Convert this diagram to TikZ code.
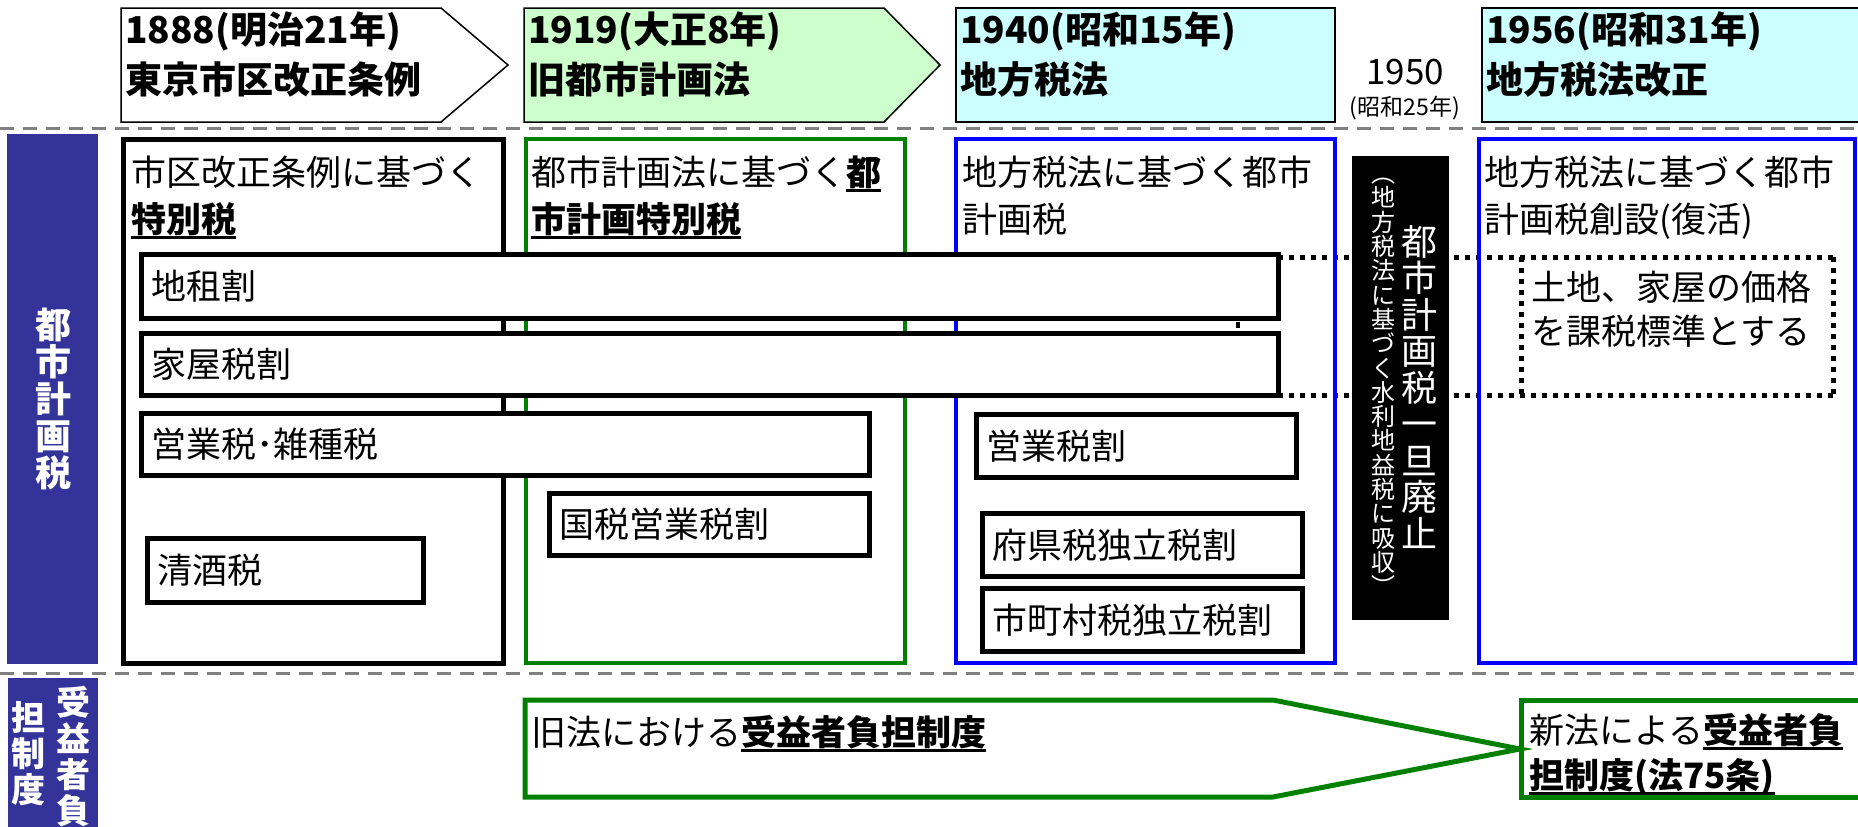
\documentclass[tikz,border=0pt]{standalone}
\usepackage{fontspec}
\setmainfont{Noto Sans CJK JP}
\definecolor{labblue}{HTML}{333399}
\definecolor{hgreen}{HTML}{CCFFCC}
\definecolor{hcyan}{HTML}{CCFFFF}
\definecolor{lgreen}{HTML}{008000}
\definecolor{lblue}{HTML}{0000FF}
\definecolor{dgray}{HTML}{808080}
\newcommand\myul[1]{\setbox0\hbox{#1}\rlap{\rule[-6.5pt]{\wd0}{2.5pt}}\box0}
\tikzset{
  fsz/.style={font={\fontsize{#1}{#1}\selectfont}},
  txt/.style={anchor=base west, inner sep=0pt},
  hdr/.style={txt, font={\fontsize{37}{37}\selectfont\bfseries}},
  body/.style={txt, font={\fontsize{35}{35}\selectfont}},
  sepline/.style={dgray, line width=3pt, dash pattern=on 14pt off 9pt},
  dotline/.style={black, line width=5pt, dash pattern=on 5pt off 6pt},
  taxbar/.style={draw=black, line width=5pt, fill=white},
  colbox/.style={line width=5pt},
  hbox/.style={draw=black, line width=1.5pt},
}
\begin{document}
\begin{tikzpicture}[x=1pt,y=-1pt]
\useasboundingbox (0,0) rectangle (1858,827);

% separator lines
\draw[sepline] (0,128) -- (1858,128);
\draw[sepline] (0,673) -- (1858,673);

% header boxes
\draw[hbox, fill=white] (121,8) -- (441,8) -- (508,65) -- (441,122) -- (121,122) -- cycle;
\draw[hbox, fill=hgreen] (524,8) -- (884,8) -- (940,65) -- (884,122) -- (524,122) -- cycle;
\draw[hbox, fill=hcyan] (956,8) rectangle (1335,122);
\draw[hbox, fill=hcyan] (1482,8) rectangle (1866,122);

\node[hdr] (h1a) at (125,43) {1888(明治21年)};
\node[hdr] (h1b) at (125,93) {東京市区改正条例};
\node[hdr] (h2a) at (528,43) {1919(大正8年)};
\node[hdr] (h2b) at (528,93) {旧都市計画法};
\node[hdr] (h3a) at (960,43) {1940(昭和15年)};
\node[hdr] (h3b) at (960,93) {地方税法};
\node[hdr] (h4a) at (1486,43) {1956(昭和31年)};
\node[hdr] (h4b) at (1486,93) {地方税法改正};
\node[inner sep=0pt, fsz=35] (y1950) at (1405,72) {1950};
\node[inner sep=0pt, fsz=23] (s1950) at (1405,108) {(昭和25年)};

% left labels
\fill[labblue] (7,134) rectangle (98,664);
\fill[labblue] (8,678) rectangle (98,830);
\node[inner sep=0pt, text=white, align=center, font={\fontsize{36}{37}\selectfont\bfseries}] (lab1) at (53,399) {都\\市\\計\\画\\税};
\node[inner sep=0pt, text=white, align=center, anchor=north, font={\fontsize{34}{36}\selectfont\bfseries}] (lab2a) at (73,686) {受\\益\\者\\負};
\node[inner sep=0pt, text=white, align=center, anchor=north, font={\fontsize{34}{36}\selectfont\bfseries}] (lab2b) at (28,701) {担\\制\\度};

% dotted lines and dotted box
\draw[dotline] (1278,257) -- (1833,257);
\draw[dotline] (1278,395) -- (1833,395);
\draw[dotline] (1521,257) -- (1521,395);
\draw[dotline] (1833,257) -- (1833,395);

% column boxes
\draw[colbox, black] (123,139) rectangle (503,663);
\draw[colbox, lgreen, line width=4.5pt] (526,139) rectangle (905,663);
\draw[colbox, lblue, line width=4.5pt] (956,139) rectangle (1335,663);
\draw[colbox, lblue, line width=4.5pt] (1479,139) rectangle (1855,663);

\node[body] (c1a) at (131,185) {市区改正条例に基づく};
\node[body] (c1b) at (131,232) {\myul{\textbf{特別税}}};
\node[body] (c2a) at (531,185) {都市計画法に基づく\myul{\textbf{都}}};
\node[body] (c2b) at (531,232) {\myul{\textbf{市計画特別税}}};
\node[body] (c3a) at (962,185) {地方税法に基づく都市};
\node[body] (c3b) at (962,232) {計画税};
\node[body] (c4a) at (1484,185) {地方税法に基づく都市};
\node[body] (c4b) at (1484,232) {計画税創設(復活)};

% tax bars
\draw[taxbar] (141,254) rectangle (1278,318);
\node[body] (t1) at (151,299) {地租割};
\draw[taxbar] (141,333) rectangle (1278,395);
\node[body] (t2) at (151,377) {家屋税割};
\fill (1236,322) rectangle (1240,328);
\draw[taxbar] (141,413) rectangle (869,475);
\node[body] (t3) at (151,457) {営業税･雑種税};
\draw[taxbar] (549,493) rectangle (869,555);
\node[body] (t4) at (559,537) {国税営業税割};
\draw[taxbar] (147,538) rectangle (423,602);
\node[body] (t5) at (157,583) {清酒税};
\draw[taxbar] (976,414) rectangle (1296,477);
\node[body] (t6) at (986,459) {営業税割};
\draw[taxbar] (982,513) rectangle (1302,576);
\node[body] (t7) at (992,558) {府県税独立税割};
\draw[taxbar] (982,588) rectangle (1302,651);
\node[body] (t8) at (992,633) {市町村税独立税割};

% black bar
\fill[black] (1352,156) rectangle (1449,620);
\node[inner sep=0pt, text=white, align=center, font={\fontsize{36}{36.5}\selectfont}] (abol) at (1419,387) {都\\市\\計\\画\\税\\一\\旦\\廃\\止};
\node[inner sep=0pt, text=white, align=center, font={\fontsize{24}{24.3}\selectfont}] (absorb) at (1383,387) {︵\\地\\方\\税\\法\\に\\基\\づ\\く\\水\\利\\地\\益\\税\\に\\吸\\収\\︶};

% dotted box text
\node[body] (d1) at (1531,300) {土地、家屋の価格};
\node[body] (d2) at (1531,344) {を課税標準とする};

% bottom row
\draw[lgreen, line width=5pt, line join=miter] (525,700) -- (1273,700) -- (1520,749) -- (1273,797) -- (525,797) -- cycle;
\node[body] (b1) at (531,745) {旧法における\myul{\textbf{受益者負担制度}}};
\draw[lgreen, line width=5pt] (1521,700) rectangle (1866,797);
\node[body] (b2) at (1529,743) {新法による\myul{\textbf{受益者負}}};
\node[body] (b3) at (1529,788) {\myul{\textbf{担制度(法75条)}}};
\end{tikzpicture}
\end{document}
